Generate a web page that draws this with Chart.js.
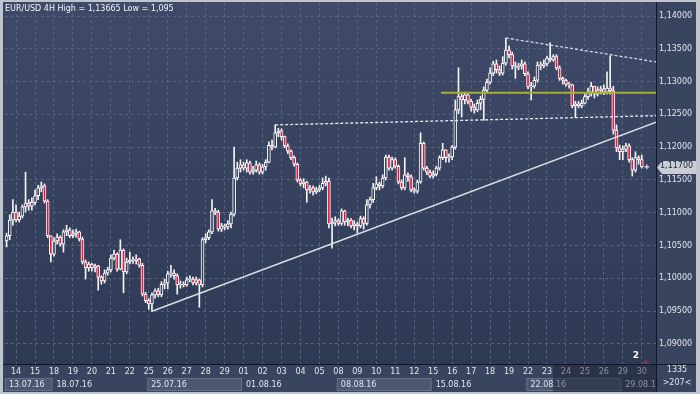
<!DOCTYPE html>
<html>
<head>
<meta charset="utf-8">
<script src="https://cdn.jsdelivr.net/npm/chart.js@4.4.1/dist/chart.umd.min.js"></script>
<style>
  html, body { margin: 0; padding: 0; background: #c0c4cc; }
</style>
</head>
<body>
<canvas id="fxChart" width="700" height="394"></canvas>
<script>
// EUR/USD 4H candles, 13.07.16 - 30.08.16 (six per trading day)
const opens = [
  1.1057, 1.1065, 1.1089,
  1.1101, 1.1089, 1.1095, 1.1109, 1.1115, 1.1110,
  1.1116, 1.1126, 1.1138, 1.1141, 1.1118, 1.1065,
  1.1037, 1.1057, 1.1063, 1.1052, 1.1071, 1.1074,
  1.1065, 1.1068, 1.1071, 1.1060, 1.1025, 1.1016,
  1.1022, 1.1016, 1.1019, 1.1002, 1.0996, 1.1008,
  1.1013, 1.1031, 1.1037, 1.1014, 1.1043, 1.1010,
  1.1025, 1.1028, 1.1027, 1.1030, 1.1020, 1.0976,
  1.0966, 1.0961, 1.0975, 1.0981, 1.0975, 1.0991,
  1.0993, 1.1007, 1.1008, 1.1004, 1.0990, 1.0991,
  1.0990, 1.0998, 1.0999, 1.0993, 1.0998, 1.0990,
  1.1059, 1.1062, 1.1071, 1.1103, 1.1101, 1.1075,
  1.1080, 1.1078, 1.1083, 1.1098, 1.1153, 1.1168,
  1.1173, 1.1168, 1.1176, 1.1162, 1.1165, 1.1173,
  1.1162, 1.1170, 1.1177, 1.1203, 1.1200, 1.1222,
  1.1225, 1.1216, 1.1202, 1.1194, 1.1184, 1.1174,
  1.1150, 1.1144, 1.1147, 1.1135, 1.1138, 1.1132,
  1.1135, 1.1138, 1.1145, 1.1148, 1.1083, 1.1086,
  1.1088, 1.1084, 1.1103, 1.1086, 1.1089, 1.1080,
  1.1083, 1.1080, 1.1091, 1.1084, 1.1112, 1.1120,
  1.1138, 1.1144, 1.1141, 1.1153, 1.1185, 1.1168,
  1.1181, 1.1171, 1.1147, 1.1138, 1.1158, 1.1155,
  1.1135, 1.1133, 1.1147, 1.1206, 1.1168, 1.1162,
  1.1156, 1.1159, 1.1168, 1.1184, 1.1196, 1.1184,
  1.1185, 1.1200, 1.1257, 1.1277, 1.1272, 1.1280,
  1.1270, 1.1261, 1.1257, 1.1267, 1.1273, 1.1287,
  1.1299, 1.1313, 1.1327, 1.1318, 1.1313, 1.1328,
  1.1348, 1.1341, 1.1324, 1.1322, 1.1324, 1.1327,
  1.1312, 1.1292, 1.1293, 1.1302, 1.1325, 1.1324,
  1.1327, 1.1336, 1.1333, 1.1338, 1.1321, 1.1305,
  1.1302, 1.1296, 1.1295, 1.1263, 1.1266, 1.1263,
  1.1267, 1.1277, 1.1284, 1.1293, 1.1281, 1.1287,
  1.1289, 1.1284, 1.1290, 1.1286, 1.1226, 1.1199,
  1.1193, 1.1197, 1.1202, 1.1181, 1.1165, 1.1184,
  1.1181
];
const highs = [
  1.1069, 1.1097, 1.1120,
  1.1112, 1.1101, 1.1112, 1.1162, 1.1120, 1.1123,
  1.1135, 1.1142, 1.1147, 1.1144, 1.1120, 1.1065,
  1.1062, 1.1068, 1.1065, 1.1074, 1.1081, 1.1077,
  1.1074, 1.1075, 1.1072, 1.1063, 1.1028, 1.1025,
  1.1023, 1.1022, 1.1020, 1.1004, 1.1013, 1.1017,
  1.1036, 1.1043, 1.1039, 1.1059, 1.1045, 1.1031,
  1.1040, 1.1033, 1.1036, 1.1031, 1.1023, 1.0979,
  1.0969, 1.0978, 1.0984, 1.0985, 1.0995, 1.0999,
  1.1011, 1.1020, 1.1013, 1.1007, 1.0996, 1.0995,
  1.1002, 1.1004, 1.1002, 1.1002, 1.0999, 1.1062,
  1.1068, 1.1074, 1.1120, 1.1107, 1.1104, 1.1084,
  1.1083, 1.1088, 1.1101, 1.1200, 1.1177, 1.1181,
  1.1177, 1.1181, 1.1179, 1.1171, 1.1179, 1.1176,
  1.1174, 1.1181, 1.1208, 1.1211, 1.1234, 1.1229,
  1.1228, 1.1217, 1.1205, 1.1196, 1.1187, 1.1176,
  1.1152, 1.1152, 1.1148, 1.1142, 1.1141, 1.1139,
  1.1142, 1.1153, 1.1156, 1.1153, 1.1092, 1.1094,
  1.1091, 1.1106, 1.1104, 1.1092, 1.1091, 1.1088,
  1.1086, 1.1095, 1.1094, 1.1120, 1.1124, 1.1145,
  1.1155, 1.1147, 1.1158, 1.1188, 1.1188, 1.1185,
  1.1184, 1.1173, 1.1150, 1.1184, 1.1161, 1.1158,
  1.1138, 1.1150, 1.1222, 1.1208, 1.1171, 1.1165,
  1.1164, 1.1171, 1.1187, 1.1206, 1.1196, 1.1190,
  1.1203, 1.1272, 1.1321, 1.1281, 1.1284, 1.1281,
  1.1273, 1.1266, 1.1272, 1.1278, 1.1292, 1.1304,
  1.1321, 1.1331, 1.1333, 1.1324, 1.1338, 1.13665,
  1.1354, 1.1345, 1.1330, 1.1328, 1.1333, 1.1330,
  1.1315, 1.1299, 1.1307, 1.1330, 1.1330, 1.1333,
  1.1339, 1.1359, 1.1341, 1.1341, 1.1324, 1.1307,
  1.1304, 1.1299, 1.1296, 1.1270, 1.1270, 1.1272,
  1.1281, 1.1290, 1.1299, 1.1293, 1.1292, 1.1293,
  1.1295, 1.1315, 1.1339, 1.1293, 1.1234, 1.1203,
  1.1202, 1.1206, 1.1205, 1.1184, 1.1193, 1.1187,
  1.1188
];
const lows = [
  1.1048, 1.1059, 1.1081,
  1.1086, 1.1086, 1.1092, 1.1101, 1.1104, 1.1104,
  1.1112, 1.1120, 1.1132, 1.1115, 1.1062, 1.1025,
  1.1034, 1.1052, 1.1049, 1.1040, 1.1065, 1.1062,
  1.1062, 1.1063, 1.1057, 1.1022, 1.0999, 1.1011,
  1.1011, 1.1010, 1.0982, 1.0991, 1.0993, 1.1005,
  1.1010, 1.1028, 1.1011, 1.1013, 1.0978, 1.1007,
  1.1022, 1.1023, 1.1022, 1.1017, 1.0973, 1.0963,
  1.0953, 1.0950, 1.0970, 1.0972, 1.0972, 1.0984,
  1.0984, 1.1002, 1.0999, 1.0976, 1.0985, 1.0987,
  1.0988, 1.0995, 1.0990, 1.0990, 1.0956, 1.0987,
  1.1054, 1.1059, 1.1068, 1.1097, 1.1072, 1.1071,
  1.1074, 1.1075, 1.1077, 1.1095, 1.1150, 1.1162,
  1.1165, 1.1162, 1.1159, 1.1159, 1.1162, 1.1159,
  1.1159, 1.1165, 1.1176, 1.1196, 1.1199, 1.1216,
  1.1211, 1.1199, 1.1190, 1.1181, 1.1171, 1.1147,
  1.1141, 1.1138, 1.1116, 1.1130, 1.1127, 1.1129,
  1.1132, 1.1135, 1.1141, 1.1077, 1.1046, 1.1080,
  1.1081, 1.1081, 1.1081, 1.1080, 1.1077, 1.1074,
  1.1069, 1.1077, 1.1075, 1.1081, 1.1107, 1.1116,
  1.1135, 1.1135, 1.1138, 1.1150, 1.1165, 1.1165,
  1.1168, 1.1144, 1.1135, 1.1135, 1.1148, 1.1132,
  1.1130, 1.1130, 1.1145, 1.1165, 1.1158, 1.1153,
  1.1153, 1.1156, 1.1165, 1.1181, 1.1177, 1.1177,
  1.1181, 1.1197, 1.1251, 1.1246, 1.1266, 1.1266,
  1.1255, 1.1252, 1.1254, 1.1257, 1.1241, 1.1284,
  1.1296, 1.1309, 1.1313, 1.1309, 1.1310, 1.1325,
  1.1336, 1.1319, 1.1305, 1.1318, 1.1319, 1.1309,
  1.1289, 1.1272, 1.1290, 1.1299, 1.1318, 1.1321,
  1.1324, 1.1330, 1.1331, 1.1318, 1.1302, 1.1296,
  1.1293, 1.1290, 1.1260, 1.1245, 1.1260, 1.1260,
  1.1266, 1.1273, 1.1278, 1.1275, 1.1278, 1.1281,
  1.1280, 1.1281, 1.1281, 1.1220, 1.1193, 1.1181,
  1.1181, 1.1193, 1.1177, 1.1156, 1.1162, 1.1174,
  1.1168
];
const closes = [
  1.1065, 1.1089, 1.1101,
  1.1089, 1.1095, 1.1109, 1.1115, 1.1110, 1.1116,
  1.1126, 1.1138, 1.1141, 1.1118, 1.1065, 1.1037,
  1.1057, 1.1063, 1.1052, 1.1071, 1.1074, 1.1065,
  1.1068, 1.1071, 1.1060, 1.1025, 1.1016, 1.1022,
  1.1016, 1.1019, 1.1002, 1.0996, 1.1008, 1.1013,
  1.1031, 1.1037, 1.1014, 1.1043, 1.1010, 1.1025,
  1.1028, 1.1027, 1.1030, 1.1020, 1.0976, 1.0966,
  1.0961, 1.0975, 1.0981, 1.0975, 1.0991, 1.0993,
  1.1007, 1.1008, 1.1004, 1.0990, 1.0991, 1.0990,
  1.0998, 1.0999, 1.0993, 1.0998, 1.0990, 1.1059,
  1.1062, 1.1071, 1.1103, 1.1101, 1.1075, 1.1080,
  1.1078, 1.1083, 1.1098, 1.1153, 1.1168, 1.1173,
  1.1168, 1.1176, 1.1162, 1.1165, 1.1173, 1.1162,
  1.1170, 1.1177, 1.1203, 1.1200, 1.1222, 1.1225,
  1.1216, 1.1202, 1.1194, 1.1184, 1.1174, 1.1150,
  1.1144, 1.1147, 1.1135, 1.1138, 1.1132, 1.1135,
  1.1138, 1.1145, 1.1148, 1.1083, 1.1086, 1.1088,
  1.1084, 1.1103, 1.1086, 1.1089, 1.1080, 1.1083,
  1.1080, 1.1091, 1.1084, 1.1112, 1.1120, 1.1138,
  1.1144, 1.1141, 1.1153, 1.1185, 1.1168, 1.1181,
  1.1171, 1.1147, 1.1138, 1.1158, 1.1155, 1.1135,
  1.1133, 1.1147, 1.1206, 1.1168, 1.1162, 1.1156,
  1.1159, 1.1168, 1.1184, 1.1196, 1.1184, 1.1185,
  1.1200, 1.1257, 1.1277, 1.1272, 1.1280, 1.1270,
  1.1261, 1.1257, 1.1267, 1.1273, 1.1287, 1.1299,
  1.1313, 1.1327, 1.1318, 1.1313, 1.1328, 1.1348,
  1.1341, 1.1324, 1.1322, 1.1324, 1.1327, 1.1312,
  1.1292, 1.1293, 1.1302, 1.1325, 1.1324, 1.1327,
  1.1336, 1.1333, 1.1338, 1.1321, 1.1305, 1.1302,
  1.1296, 1.1295, 1.1263, 1.1266, 1.1263, 1.1267,
  1.1277, 1.1284, 1.1293, 1.1281, 1.1287, 1.1289,
  1.1284, 1.1290, 1.1286, 1.1226, 1.1199, 1.1193,
  1.1197, 1.1202, 1.1181, 1.1165, 1.1184, 1.1181,
  1.1170
];

// x axis: day labels at the first candle of each day, week boxes below
const dayLabels = ['14','15','18','19','20','21','22','25','26','27','28','29','01','02','03','04','05',
  '08','09','10','11','12','15','16','17','18','19','22','23','24','25','26','29','30'];
const dayStarts = [3,9,15,21,27,33,39,45,51,57,63,69,75,81,87,93,99,105,111,117,123,129,135,141,
  147,153,159,165,171,177,183,189,195,201];
const weekLabels = ['13.07.16','18.07.16','25.07.16','01.08.16','08.08.16','15.08.16','22.08.16','29.08.16'];
const weekStarts = [-3, 15, 45, 75, 105, 135, 165, 195];
const emptySlots = 4; // free space right of the last bar

// drawn objects: [candle index, price]
const supportLine = [[46, 1.0950], [205.5, 1.1238]];
const necklineLine = [[85, 1.1234], [205.5, 1.1248]];
const topLine = [[158, 1.13665], [205.5, 1.1330]];
const levelLine = [[137.5, 1.1283], [205.5, 1.1283]];

const lastPrice = 1.117;
const titleText = 'EUR/USD 4H High = 1,13665 Low = 1,095';
const FONT = '"DejaVu Sans", sans-serif';

const slotLabels = Array(opens.length + emptySlots).fill('');
dayStarts.forEach((s, k) => { slotLabels[s] = dayLabels[k]; });

const fmt = v => v.toFixed(5).replace('.', ',');

const decor = {
  id: 'decor',
  beforeDraw(chart) {
    const { ctx, chartArea: a, scales: { x } } = chart;
    const slot = x.getPixelForValue(1) - x.getPixelForValue(0);
    const edge = i => x.getPixelForValue(i) - slot / 2;
    ctx.save();
    ctx.fillStyle = '#c0c4cc';
    ctx.fillRect(0, 0, chart.width, chart.height);
    ctx.fillStyle = '#39445f';
    ctx.fillRect(3, 2, 693, 390);
    const g = ctx.createLinearGradient(0, a.top, 0, a.bottom);
    g.addColorStop(0, '#3e4a68');
    g.addColorStop(1, '#2e3954');
    ctx.fillStyle = g;
    ctx.fillRect(a.left, a.top, a.right - a.left, a.bottom - a.top);
    // lighter boxes behind every second week label
    weekStarts.forEach((s, k) => {
      if (k % 2) return;
      const x0 = Math.max(a.left, edge(s));
      const x1 = k + 1 < weekStarts.length ? edge(weekStarts[k + 1]) : a.right;
      ctx.fillStyle = '#4c5771';
      ctx.fillRect(x0, 378, x1 - x0, 13);
      ctx.strokeStyle = '#66718a';
      ctx.lineWidth = 1;
      ctx.strokeRect(x0 + 0.5, 378.5, x1 - x0 - 1, 12);
    });
    ctx.restore();
  },
  afterDatasetsDraw(chart) {
    const { ctx, chartArea: a, scales: { x, y } } = chart;
    const line = (pts, color, width, dash) => {
      ctx.beginPath();
      ctx.moveTo(x.getPixelForValue(pts[0][0]), y.getPixelForValue(pts[0][1]));
      ctx.lineTo(x.getPixelForValue(pts[1][0]), y.getPixelForValue(pts[1][1]));
      ctx.strokeStyle = color;
      ctx.lineWidth = width;
      ctx.setLineDash(dash);
      ctx.stroke();
    };
    ctx.save();
    ctx.beginPath();
    ctx.rect(a.left, a.top, a.right - a.left, a.bottom - a.top);
    ctx.clip();
    line(levelLine, '#a9b02a', 2, []);
    line(supportLine, '#d9dce4', 1.5, []);
    line(necklineLine, '#eceef2', 1.3, [3, 2]);
    line(topLine, '#d6d9e0', 1.3, [3, 2]);
    // current price cross
    const cx = x.getPixelForValue(opens.length + 0.6);
    const cy = y.getPixelForValue(lastPrice);
    ctx.setLineDash([]);
    ctx.strokeStyle = '#ffffff';
    ctx.lineWidth = 1;
    ctx.beginPath();
    ctx.moveTo(cx - 2.5, cy); ctx.lineTo(cx + 2.5, cy);
    ctx.moveTo(cx, cy - 2.5); ctx.lineTo(cx, cy + 2.5);
    ctx.stroke();
    ctx.restore();
  },
  afterDraw(chart) {
    const { ctx, chartArea: a, scales: { x, y } } = chart;
    const slot = x.getPixelForValue(1) - x.getPixelForValue(0);
    const edge = i => x.getPixelForValue(i) - slot / 2;
    ctx.save();
    // title
    ctx.font = '8px ' + FONT;
    ctx.fillStyle = '#f2f4f8';
    ctx.textBaseline = 'alphabetic';
    ctx.textAlign = 'left';
    ctx.fillText(titleText, 5, 11);

    // week labels
    ctx.save();
    ctx.beginPath();
    ctx.rect(3, 365, a.right - 3, 27);
    ctx.clip();
    ctx.fillStyle = '#e2e6ee';
    ctx.textBaseline = 'middle';
    weekStarts.forEach((s, k) => {
      const x0 = Math.max(a.left, edge(s));
      ctx.fillText(weekLabels[k], x0 + 4, 385);
    });
    ctx.restore();

    // darker selection band at the bottom right
    ctx.fillStyle = 'rgba(26, 32, 52, 0.45)';
    ctx.fillRect(553, 365, a.right - 553, 27);

    // separators
    ctx.strokeStyle = '#121622';
    ctx.lineWidth = 1;
    ctx.beginPath();
    ctx.moveTo(a.right + 0.5, 2); ctx.lineTo(a.right + 0.5, 392);
    ctx.moveTo(3, a.bottom + 0.5); ctx.lineTo(696, a.bottom + 0.5);
    ctx.stroke();

    // bar counter
    ctx.fillStyle = '#ffffff';
    ctx.font = 'bold 9px ' + FONT;
    ctx.textAlign = 'center';
    ctx.fillText('2', 636, 358);
    ctx.fillStyle = '#6b3e50';
    ctx.beginPath();
    ctx.moveTo(642, 364); ctx.lineTo(646, 359); ctx.lineTo(650, 364); ctx.closePath();
    ctx.fill();

    // right bottom cell
    ctx.font = '8px ' + FONT;
    ctx.fillStyle = '#e2e6ee';
    ctx.fillText('1335', 677, 372);
    ctx.fillText('>207<', 677, 385);

    // price tag
    const py = Math.round(y.getPixelForValue(lastPrice)) + 0.5;
    ctx.fillStyle = '#c9cdd5';
    ctx.beginPath();
    ctx.moveTo(657, py);
    ctx.lineTo(662, py - 6.5);
    ctx.lineTo(696, py - 6.5);
    ctx.lineTo(696, py + 6.5);
    ctx.lineTo(662, py + 6.5);
    ctx.closePath();
    ctx.fill();
    ctx.fillStyle = '#1c2234';
    ctx.textAlign = 'left';
    ctx.fillText(fmt(lastPrice), 660, py);
    ctx.restore();
  }
};

const bodyColors = opens.map((o, i) => closes[i] >= o ? '#37435f' : '#e3173f');

new Chart(document.getElementById('fxChart'), {
  type: 'bar',
  data: {
    labels: slotLabels,
    datasets: [
      {
        label: 'body',
        data: opens.map((o, i) => [o, closes[i]]),
        backgroundColor: bodyColors,
        borderColor: '#ffffff',
        borderWidth: 1,
        borderSkipped: false,
        barThickness: 3,
        minBarLength: 1,
        grouped: false
      },
      {
        label: 'wick',
        data: lows.map((l, i) => [l, highs[i]]),
        backgroundColor: '#f4f4f6',
        borderWidth: 0,
        barThickness: 1,
        grouped: false
      }
    ]
  },
  options: {
    responsive: false,
    animation: false,
    devicePixelRatio: 1,
    events: [],
    layout: { padding: { left: 5, top: 2, right: 0, bottom: 0 } },
    plugins: { legend: { display: false }, tooltip: { enabled: false } },
    scales: {
      x: {
        type: 'category',
        offset: true,
        afterFit: s => { s.height = 30; s.paddingLeft = 0; s.paddingRight = 0; },
        grid: {
          offset: false,
          drawTicks: false,
          color: c => dayStarts.includes(c.index) ? '#56637f' : 'rgba(0,0,0,0)'
        },
        border: { display: false, dash: [3, 3] },
        ticks: {
          autoSkip: false,
          maxRotation: 0,
          padding: 3,
          color: '#e2e6ee',
          font: { family: FONT, size: 8 },
          callback: function (v) { return this.getLabelForValue(v); }
        }
      },
      y: {
        position: 'right',
        min: 1.14 - 348 / 6560,
        max: 1.14 + 14 / 6560,
        beginAtZero: false,
        afterFit: s => { s.width = 44; s.paddingTop = 0; s.paddingBottom = 0; },
        grid: { drawTicks: false, color: '#56637f' },
        border: { display: false, dash: [3, 3] },
        ticks: {
          stepSize: 0.005,
          includeBounds: false,
          padding: 3,
          color: '#e2e6ee',
          font: { family: FONT, size: 8 },
          callback: v => fmt(v)
        }
      }
    }
  },
  plugins: [decor]
});
</script>
</body>
</html>
